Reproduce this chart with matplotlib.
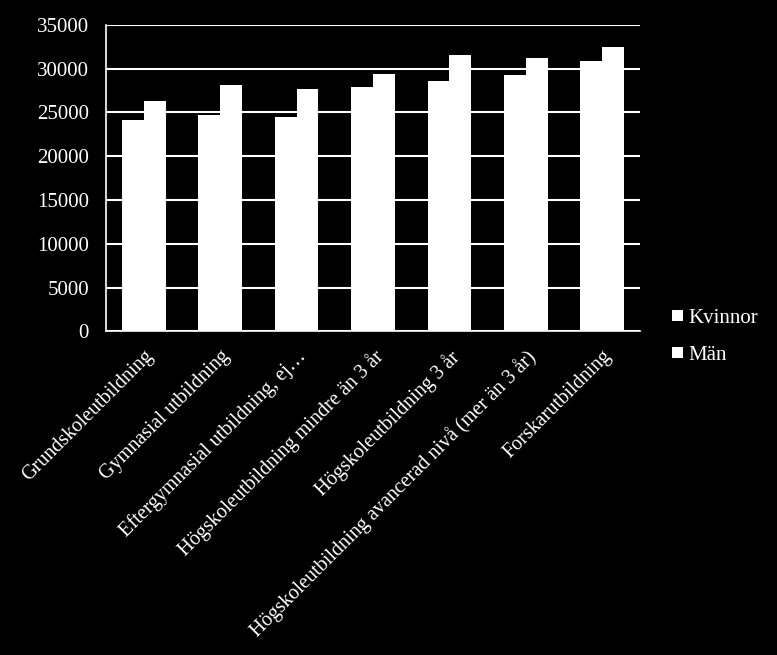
import matplotlib.pyplot as plt
import numpy as np

plt.rcParams['font.family'] = ['Liberation Serif', 'DejaVu Serif']

categories = ['Grundskoleutbildning', 'Gymnasial utbildning',
              'Eftergymnasial utbildning, ej…',
              'Högskoleutbildning mindre än 3 år', 'Högskoleutbildning 3 år',
              'Högskoleutbildning avancerad nivå (mer än 3 år)',
              'Forskarutbildning']
kvinnor = [24130, 24690, 24470, 27880, 28560, 29240, 30920]
man = [26280, 28100, 27650, 29350, 31510, 31170, 32420]

fig = plt.figure(figsize=(7.77, 6.55), dpi=100, facecolor='black')
ax = fig.add_axes([0.136, 0.494, 0.688, 0.468], facecolor='black')

x = np.arange(len(categories))
w = 1 / 3.5
ax.bar(x - w / 2, kvinnor, w, color='white', label='Kvinnor', zorder=3)
ax.bar(x + w / 2, man, w, color='white', label='Män', zorder=3)

ax.set_xlim(-0.5, len(categories) - 0.5)
ax.set_ylim(0, 35000)
ax.set_yticks(np.arange(0, 35001, 5000))
ax.yaxis.grid(True, color='white', linewidth=1.5, zorder=0)
ax.tick_params(axis='y', colors='white', labelsize=15, length=0, pad=12)
ax.tick_params(axis='x', colors='white', labelsize=14.5, length=0, pad=11)
ax.set_xticks(x)
ax.set_xticklabels(categories, rotation=45, ha='right', rotation_mode='anchor')
for s in ['top', 'right']:
    ax.spines[s].set_visible(False)
for s in ['left', 'bottom']:
    ax.spines[s].set_color('white')
    ax.spines[s].set_linewidth(1.2)

leg = fig.legend(loc='upper left', bbox_to_anchor=(0.865, 0.528), frameon=False,
                 fontsize=15, labelcolor='white', handlelength=0.5,
                 handleheight=0.45, labelspacing=0.85, handletextpad=0.3,
                 borderpad=0, borderaxespad=0)

fig.savefig('out.png', dpi=100, facecolor='black')
